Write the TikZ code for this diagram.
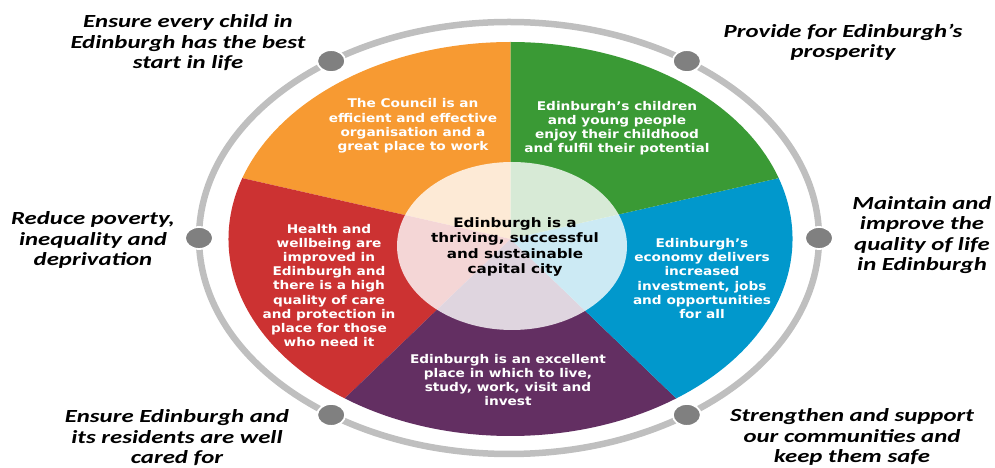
\documentclass[tikz,border=0pt]{standalone}
\usepackage{fontspec}
\setmainfont{DejaVu Sans}
\newfontfamily\goalfont{Carlito}
\usepackage{tikz}
\usetikzlibrary{calc}

\definecolor{sliceorange}{HTML}{F79A32}
\definecolor{slicegreen}{HTML}{3A9A35}
\definecolor{sliceblue}{HTML}{0198CC}
\definecolor{slicepurple}{HTML}{632F62}
\definecolor{slicered}{HTML}{CC3232}
\definecolor{ringgrey}{HTML}{BFBFBF}
\definecolor{dotgrey}{HTML}{808080}

\begin{document}
\begin{tikzpicture}[x=1pt, y=1pt,
    goal/.style={align=center, xscale=1.34,
        font=\goalfont\bfseries\itshape\fontsize{18.5}{20.5}\selectfont},
    outcome/.style={align=center, text=white, xscale=1.14,
        font=\bfseries\fontsize{12}{14.2}\selectfont},
    ringdot/.style={fill=dotgrey, draw=white, line width=1.8}]
    \useasboundingbox (0,0) rectangle (995,468);

    \coordinate (O) at (510.5,229);
    \coordinate (R) at (509,230);
    \coordinate (C) at (512,222);

    % outer ring
    \draw[ringgrey, line width=6.5] (R) ellipse [x radius=310, y radius=216];

    % the five slices
    \fill[sliceorange] (O) -- ++(90:282 and 197)
        arc[start angle=90, end angle=162, x radius=282, y radius=197] -- cycle;
    \fill[slicered] (O) -- ++(162:282 and 197)
        arc[start angle=162, end angle=234, x radius=282, y radius=197] -- cycle;
    \fill[slicepurple] (O) -- ++(234:282 and 197)
        arc[start angle=234, end angle=306, x radius=282, y radius=197] -- cycle;
    \fill[sliceblue] (O) -- ++(306:282 and 197)
        arc[start angle=306, end angle=378, x radius=282, y radius=197] -- cycle;
    \fill[slicegreen] (O) -- ++(18:282 and 197)
        arc[start angle=18, end angle=90, x radius=282, y radius=197] -- cycle;

    % centre
    \fill[white, opacity=0.8] (C) ellipse [x radius=115, y radius=84];

    % dots on the ring
    \coordinate (d1) at ($(R)+(125:310 and 216)$);
    \coordinate (d2) at ($(R)+(55:310 and 216)$);
    \coordinate (d3) at ($(R)+(180:310 and 216)$);
    \coordinate (d4) at ($(R)+(0:310 and 216)$);
    \coordinate (d5) at ($(R)+(235:310 and 216)$);
    \coordinate (d6) at ($(R)+(305:310 and 216)$);
    \filldraw[ringdot] (d1) ellipse [x radius=14, y radius=11];
    \filldraw[ringdot] (d2) ellipse [x radius=14, y radius=11];
    \filldraw[ringdot] (d3) ellipse [x radius=14, y radius=11];
    \filldraw[ringdot] (d4) ellipse [x radius=14, y radius=11];
    \filldraw[ringdot] (d5) ellipse [x radius=14, y radius=11];
    \filldraw[ringdot] (d6) ellipse [x radius=14, y radius=11];

    \node[align=center, xscale=1.17, font=\bfseries\fontsize{13}{15.3}\selectfont]
        (hub) at (515,221)
        {Edinburgh is a\\thriving, successful\\and sustainable\\capital city};

    \node[outcome] (council) at (413,342)
        {The Council is an\\efficient and effective\\organisation and a\\great place to work};
    \node[outcome] (children) at (617,340)
        {Edinburgh’s children\\and young people\\enjoy their childhood\\and fulfil their potential};
    \node[outcome] (economy) at (702,189.5)
        {Edinburgh’s\\economy delivers\\increased\\investment, jobs\\and opportunities\\for all};
    \node[outcome] (health) at (329,182.5)
        {Health and\\wellbeing are\\improved in\\Edinburgh and\\there is a high\\quality of care\\and protection in\\place for those\\who need it};
    \node[outcome] (place) at (508,88)
        {Edinburgh is an excellent\\place in which to live,\\study, work, visit and\\invest};

    \node[goal] (start) at (188,425)
        {Ensure every child in\\Edinburgh has the best\\start in life};
    \node[goal] (prosper) at (843,425.5)
        {Provide for Edinburgh’s\\prosperity};
    \node[goal] (poverty) at (93,228)
        {Reduce poverty,\\inequality and\\deprivation};
    \node[goal] (quality) at (922,233)
        {Maintain and\\improve the\\quality of life\\in Edinburgh};
    \node[goal] (cared) at (177,30)
        {Ensure Edinburgh and\\its residents are well\\cared for};
    \node[goal] (safe) at (852,31)
        {Strengthen and support\\our communities and\\keep them safe};
\end{tikzpicture}
\end{document}
